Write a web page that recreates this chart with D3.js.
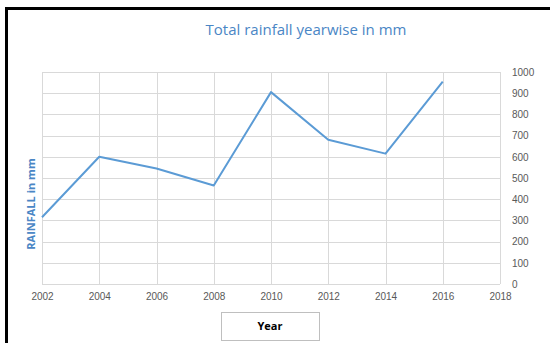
<!DOCTYPE html>
<html>
<head>
<meta charset="utf-8">
<script src="https://cdn.jsdelivr.net/npm/d3@7"></script>
<style>
  body { margin: 0; background: #fff; }
  svg { display: block; font-family: "Open Sans", "Liberation Sans", sans-serif; }
</style>
</head>
<body>
<svg id="chart"></svg>
<script>
// Chart data
const years = [2002, 2004, 2006, 2008, 2010, 2012, 2014, 2016];
const rainfall = [315, 600, 545, 465, 905, 680, 615, 955];
const xTicks = [2002, 2004, 2006, 2008, 2010, 2012, 2014, 2016, 2018];
const yTicks = [0, 100, 200, 300, 400, 500, 600, 700, 800, 900, 1000];

const width = 550, height = 343;
const plot = { left: 42, right: 500, top: 72, bottom: 284 };

const svg = d3.select("#chart")
  .attr("width", width)
  .attr("height", height);

// outer frame (black border on left and top)
svg.append("rect")
  .attr("x", 6.5).attr("y", 8.5)
  .attr("width", 560).attr("height", 360)
  .attr("fill", "#fff")
  .attr("stroke", "#000")
  .attr("stroke-width", 3);

const x = d3.scaleLinear()
  .domain([2002, 2018])
  .range([plot.left, plot.right]);

const y = d3.scaleLinear()
  .domain([0, 1000])
  .range([plot.bottom, plot.top]);

// gridlines
svg.append("g")
  .selectAll("line")
  .data(yTicks)
  .join("line")
  .attr("x1", plot.left).attr("x2", plot.right)
  .attr("y1", d => Math.round(y(d)) + 0.5)
  .attr("y2", d => Math.round(y(d)) + 0.5)
  .attr("stroke", "#d9d9d9");

svg.append("g")
  .selectAll("line")
  .data(xTicks)
  .join("line")
  .attr("y1", plot.top).attr("y2", plot.bottom)
  .attr("x1", d => Math.round(x(d)) + 0.5)
  .attr("x2", d => Math.round(x(d)) + 0.5)
  .attr("stroke", "#d9d9d9");

// axes (labels only)
const yAxis = svg.append("g")
  .attr("transform", `translate(${plot.right + 12},0)`)
  .call(d3.axisRight(y).tickValues(yTicks).tickFormat(d3.format("d")).tickSize(0).tickPadding(0));
yAxis.select(".domain").remove();
yAxis.selectAll("text")
  .attr("fill", "#595959")
  .style("font-size", "10px");

const xAxis = svg.append("g")
  .attr("transform", `translate(0,${plot.bottom + 9})`)
  .call(d3.axisBottom(x).tickValues(xTicks).tickFormat(d3.format("d")).tickSize(0).tickPadding(0));
xAxis.select(".domain").remove();
xAxis.selectAll("text")
  .attr("fill", "#595959")
  .style("font-size", "10px");

// the line
const line = d3.line()
  .x((d, i) => x(years[i]))
  .y(d => y(d));

svg.append("path")
  .datum(rainfall)
  .attr("d", line)
  .attr("fill", "none")
  .attr("stroke", "#5b9bd5")
  .attr("stroke-width", 2)
  .attr("stroke-linejoin", "round");

// title
svg.append("text")
  .attr("x", 306).attr("y", 35)
  .attr("text-anchor", "middle")
  .attr("fill", "#4a86c5")
  .style("font-size", "15px")
  .text("Total rainfall yearwise in mm");

// y axis title
svg.append("text")
  .attr("transform", "translate(35,204) rotate(-90)")
  .attr("text-anchor", "middle")
  .attr("fill", "#4a86c5")
  .style("font-size", "11px")
  .style("font-weight", "bold")
  .text("RAINFALL in mm");

// x axis title in a box
svg.append("rect")
  .attr("x", 221.5).attr("y", 312.5)
  .attr("width", 98).attr("height", 28)
  .attr("fill", "#fff")
  .attr("stroke", "#bfbfbf");

svg.append("text")
  .attr("x", 270).attr("y", 330)
  .attr("text-anchor", "middle")
  .attr("fill", "#000")
  .style("font-size", "11px")
  .style("font-weight", "bold")
  .text("Year");
</script>
</body>
</html>
